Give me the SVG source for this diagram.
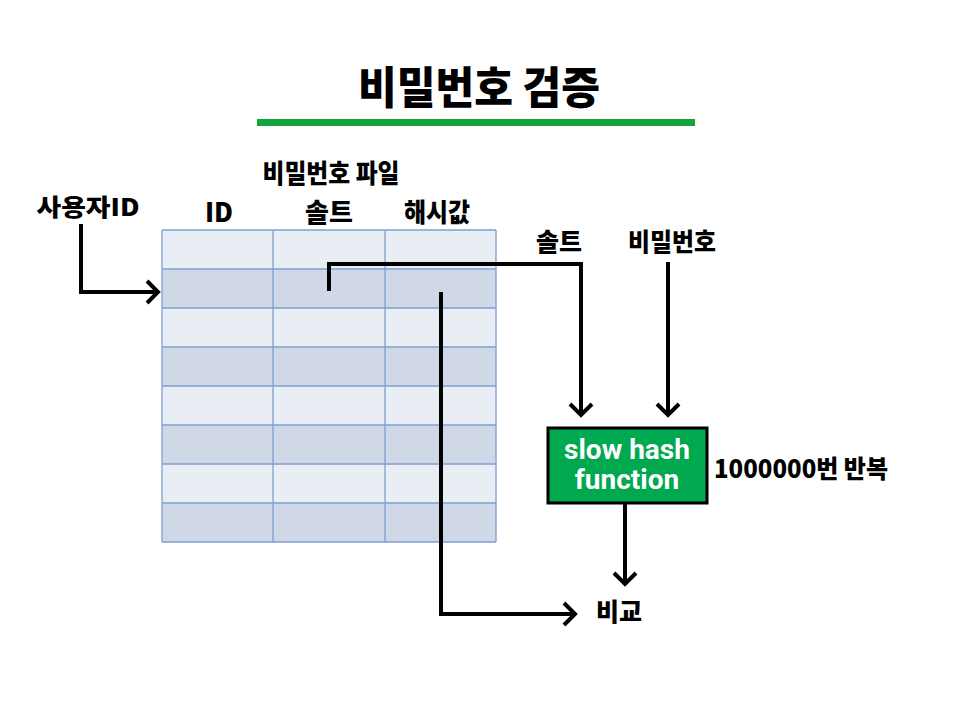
<svg xmlns="http://www.w3.org/2000/svg" width="960" height="720" viewBox="0 0 960 720">
<style>
.k{font-family:"Noto Sans CJK KR","Noto Sans",sans-serif;font-weight:900;fill:#000;}
.c{text-anchor:middle;}
.grid{stroke:#7f9fd0;stroke-width:1.3;fill:none;}
.lt{fill:#e9edf4;}
.dk{fill:#d0d8e8;}
.conn{fill:none;stroke:#000;stroke-width:4;stroke-linejoin:miter;}
.bx{font-family:Roboto,"Noto Sans",sans-serif;font-weight:700;fill:#fff;font-size:28px;text-anchor:middle;}
</style>
<defs>
<marker id="arr" viewBox="0 0 16 26" refX="13" refY="13" markerWidth="16" markerHeight="26" orient="auto" markerUnits="userSpaceOnUse">
<path d="M2,2 L13,13 L2,24" fill="none" stroke="#000" stroke-width="4"/>
</marker>
</defs>
<rect width="960" height="720" fill="#fff"/>
<g id="title">
<text class="k c" x="479" y="104" font-size="44" textLength="242" lengthAdjust="spacingAndGlyphs">비밀번호 검증</text>
<rect x="257" y="119" width="438" height="7" fill="#13a538"/>
</g>
<g id="password-file">
<text class="k c" x="331" y="183" font-size="26" textLength="137" lengthAdjust="spacingAndGlyphs">비밀번호 파일</text>
<text class="k c" x="219" y="222" font-size="26">ID</text>
<text class="k c" x="329" y="222" font-size="26">솔트</text>
<text class="k c" x="437" y="222" font-size="26" textLength="66" lengthAdjust="spacingAndGlyphs">해시값</text>
<rect class="lt" x="162" y="230" width="334" height="39"/>
<rect class="dk" x="162" y="269" width="334" height="39"/>
<rect class="lt" x="162" y="308" width="334" height="39"/>
<rect class="dk" x="162" y="347" width="334" height="39"/>
<rect class="lt" x="162" y="386" width="334" height="39"/>
<rect class="dk" x="162" y="425" width="334" height="39"/>
<rect class="lt" x="162" y="464" width="334" height="39"/>
<rect class="dk" x="162" y="503" width="334" height="39"/>
<path class="grid" d="M162,230H496M162,269H496M162,308H496M162,347H496M162,386H496M162,425H496M162,464H496M162,503H496M162,542H496M162,230V542M273,230V542M385,230V542M496,230V542"/>
</g>
<g id="user-id">
<text class="k c" x="88" y="216" font-size="24" textLength="103" lengthAdjust="spacingAndGlyphs">사용자ID</text>
</g>
<g id="salt-label">
<text class="k c" x="559" y="251" font-size="25">솔트</text>
</g>
<g id="password-label">
<text class="k c" x="672" y="251" font-size="25" textLength="88" lengthAdjust="spacingAndGlyphs">비밀번호</text>
</g>
<g id="slow-hash">
<rect x="548" y="428" width="159" height="75" fill="#00a84f" stroke="#000" stroke-width="3"/>
<text class="bx" x="627" y="459">slow hash</text>
<text class="bx" x="627" y="489">function</text>
</g>
<g id="repeat">
<text class="k" x="714" y="478" font-size="25" textLength="174" lengthAdjust="spacingAndGlyphs">1000000번 반복</text>
</g>
<g id="compare">
<text class="k c" x="619" y="621" font-size="25">비교</text>
</g>
<g id="connectors">
<path class="conn" d="M81,224V292H158" marker-end="url(#arr)"/>
<path class="conn" d="M329,291V264H581V415" marker-end="url(#arr)"/>
<path class="conn" d="M668,262V415" marker-end="url(#arr)"/>
<path class="conn" d="M441,292V614H575" marker-end="url(#arr)"/>
<path class="conn" d="M625,503V584" marker-end="url(#arr)"/>
</g>
</svg>
